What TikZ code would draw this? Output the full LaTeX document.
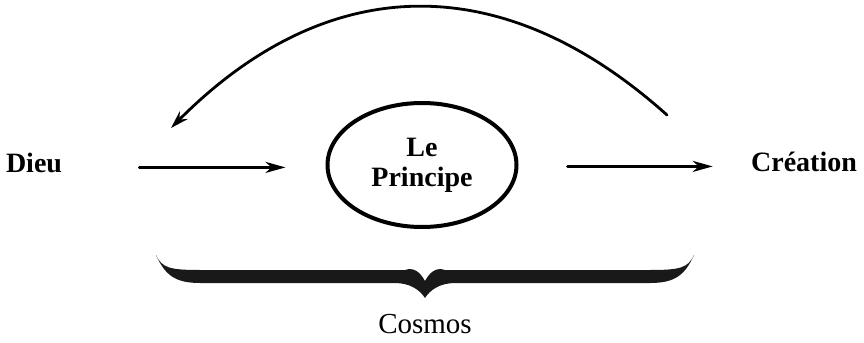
\documentclass[tikz,border=0pt]{standalone}
\usepackage{fontspec}
\setmainfont{Liberation Serif}
\usetikzlibrary{arrows.meta}
\usetikzlibrary{shapes.geometric}

\begin{document}
\begin{tikzpicture}[
    >=Stealth,
    line cap=round,
    line join=round,
    x=0.5pt,
    y=-0.5pt
]

% =========================================================
% Styles
% =========================================================
\tikzset{
    termtext/.style={font=\bfseries\fontsize{14}{15}\selectfont,inner sep=0pt},
    cosmostext/.style={font=\fontsize{14.5}{16}\selectfont,inner sep=0pt},
    principe/.style={ellipse,draw,line width=2pt,minimum width=94.5pt,
        minimum height=62pt,inner sep=0pt,align=center,
        font=\bfseries\fontsize{14}{15}\selectfont},
    flow/.style={-{Stealth[length=10pt,width=5.5pt,inset=3pt]},line width=1.4pt},
    retour/.style={-{Stealth[length=9pt,width=5.5pt,inset=3pt]},line width=1.4pt},
    bracefill/.style={fill=black!90}
}

\useasboundingbox (0,0) rectangle (864,343);

% =========================================================
% Terms
% =========================================================
\node[termtext,anchor=base] (dieu) at (34,172) {Dieu};
\node[principe] (prin) at (422,165) {Le\\Principe};
\node[termtext,anchor=base] (cre) at (804,171) {Création};

% arrows
\draw[flow,shorten <=38.5pt,shorten >=20pt]
    (dieu.mid east) -- (dieu.mid east -| prin.west);
\draw[flow,shorten <=24.5pt,shorten >=19pt]
    (prin.east |- cre.mid west) -- (cre.mid west);

% return arc
\coordinate (arcA) at (667,115);
\coordinate (arcB) at (171,128);
\draw[retour] (arcA) .. controls (502,-33) and (327,-29) .. (arcB);

% =========================================================
% Cosmos brace
% =========================================================
\fill[bracefill] (156,255) .. controls (165,275) and (175,283) .. (200,283)
    -- (395,283) .. controls (410,283) and (420,290) .. (425,298)
    .. controls (430,290) and (440,283) .. (455,283)
    -- (650,283) .. controls (675,283) and (685,275) .. (694,255)
    .. controls (688,268) and (680,270) .. (650,270)
    -- (445,270) .. controls (436,267) and (430,272) .. (425,281)
    .. controls (420,272) and (414,267) .. (405,270)
    -- (200,270) .. controls (170,270) and (162,268) .. (156,255) -- cycle;
\node[cosmostext,anchor=base] (cosmos) at (425,333) {Cosmos};

\end{tikzpicture}
\end{document}
